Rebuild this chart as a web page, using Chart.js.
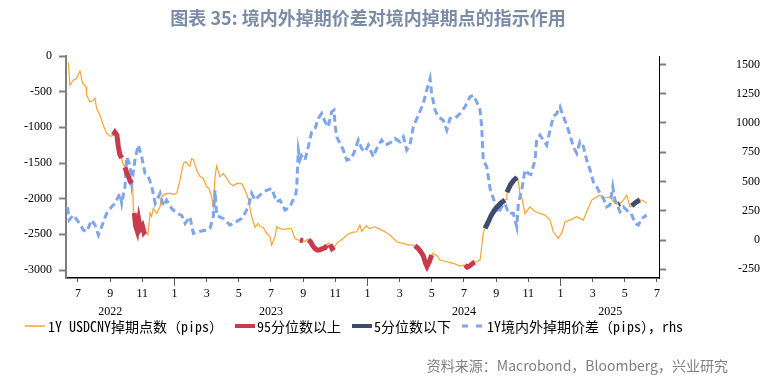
<!DOCTYPE html>
<html><head><meta charset="utf-8">
<script src="https://cdn.jsdelivr.net/npm/chart.js@4.4.1/dist/chart.umd.min.js"></script>
<style>html,body{margin:0;padding:0;background:#fff}canvas{display:block}</style>
</head><body>
<canvas id="c" width="760" height="383"></canvas>
<script>
// x values: months since 2022-01-01 (e.g. 6.0 = 1 Jul 2022)
const swapMonths = [5.40,5.50,5.71,5.92,6.12,6.29,6.50,6.54,6.75,6.95,7.06,7.16,7.37,7.57,7.78,7.99,8.10,8.19,8.30,8.42,8.51,8.60,8.72,8.78,8.85,8.92,9.05,9.15,9.25,9.34,9.40,9.44,9.50,9.58,9.68,9.78,9.88,10.00,10.10,10.17,10.26,10.35,10.48,10.58,10.68,10.89,11.10,11.20,11.30,11.50,11.72,11.95,12.14,12.34,12.55,12.70,12.85,12.96,13.07,13.17,13.38,13.59,13.79,14.00,14.15,14.31,14.41,14.52,14.62,14.83,15.03,15.25,15.45,15.66,15.87,16.18,16.38,16.59,16.80,17.01,17.21,17.32,17.52,17.73,17.94,18.04,18.25,18.35,18.56,18.77,19.18,19.29,19.49,19.70,19.80,19.99,20.11,20.25,20.32,20.45,20.60,20.74,20.86,21.00,21.20,21.36,21.48,21.56,21.62,21.67,21.80,21.95,22.09,22.29,22.50,22.71,22.91,23.12,23.33,23.53,23.64,23.85,23.95,24.10,24.47,24.78,25.09,25.40,25.71,25.82,26.23,26.64,26.85,26.95,27.16,27.30,27.47,27.60,27.70,27.85,27.99,28.07,28.32,28.51,28.93,29.34,29.75,29.95,30.06,30.20,30.37,30.58,30.68,30.79,31.00,31.10,31.20,31.28,31.31,31.50,31.70,31.93,32.05,32.30,32.55,32.62,32.67,32.90,33.10,33.30,33.36,33.48,33.60,33.79,34.10,34.42,34.73,35.04,35.35,35.55,35.86,36.08,36.28,36.59,37.01,37.42,37.63,37.94,38.25,38.46,38.77,39.08,39.39,39.60,39.70,39.91,40.12,40.32,40.43,40.63,40.84,40.94,41.05,41.20,41.36];
const swapPoints = [-83,-410,-340,-316,-210,-386,-432,-550,-644,-620,-596,-736,-830,-970,-1086,-1124,-1120,-1110,-1070,-1110,-1274,-1380,-1430,-1500,-1530,-1560,-1650,-1700,-1760,-1786,-1810,-2160,-2200,-2380,-2450,-2300,-2420,-2380,-2470,-2450,-2490,-2510,-2200,-2250,-2137,-2207,-2114,-1974,-1950,-1930,-1926,-1940,-1926,-1740,-1506,-1480,-1530,-1544,-1436,-1450,-1600,-1690,-1716,-1834,-1860,-1974,-2114,-1694,-1540,-1694,-1646,-1716,-1786,-1820,-1786,-1790,-1880,-2000,-2254,-2400,-2346,-2394,-2400,-2486,-2534,-2650,-2534,-2394,-2420,-2430,-2416,-2430,-2560,-2580,-2580,-2590,-2600,-2570,-2580,-2600,-2660,-2700,-2720,-2720,-2700,-2690,-2650,-2620,-2630,-2640,-2700,-2680,-2626,-2590,-2556,-2510,-2486,-2470,-2464,-2370,-2460,-2400,-2380,-2420,-2394,-2430,-2464,-2510,-2580,-2604,-2630,-2650,-2650,-2660,-2700,-2740,-2800,-2900,-2950,-2880,-2790,-2766,-2800,-2860,-2884,-2906,-2944,-2930,-2930,-2960,-2940,-2900,-2890,-2884,-2860,-2674,-2486,-2430,-2415,-2330,-2230,-2150,-2120,-2060,-2020,-2010,-1910,-1800,-1740,-1700,-1740,-1922,-1990,-2207,-2114,-2180,-2207,-2230,-2300,-2464,-2556,-2480,-2324,-2300,-2254,-2300,-2184,-2020,-1974,-1950,-1990,-1974,-2066,-2080,-2070,-2020,-1950,-2114,-2100,-2060,-2030,-2020,-2020,-2040,-2066];

const spreadMonths = [5.35,5.45,5.71,6.02,6.34,6.54,6.85,7.06,7.27,7.47,7.78,8.09,8.30,8.61,8.72,8.92,9.03,9.23,9.34,9.54,9.75,9.96,10.17,10.38,10.59,10.80,11.01,11.10,11.30,11.51,11.82,12.14,12.45,12.66,12.96,13.17,13.59,14.00,14.21,14.41,14.52,14.62,15.03,15.45,15.87,16.18,16.38,16.59,16.80,17.01,17.21,17.52,18.04,18.35,18.56,18.87,19.18,19.55,19.60,19.70,19.80,19.91,20.11,20.32,20.53,20.74,20.94,21.15,21.36,21.56,21.77,21.92,21.98,22.09,22.29,22.50,22.71,23.02,23.22,23.43,23.64,23.85,24.05,24.36,24.57,24.88,25.09,25.40,25.71,26.02,26.23,26.44,26.64,26.85,27.16,27.47,27.68,27.89,27.99,28.20,28.40,28.71,28.93,29.13,29.45,29.75,30.06,30.37,30.58,30.79,31.00,31.10,31.20,31.41,31.51,31.62,31.93,32.13,32.34,32.55,32.76,33.07,33.28,33.38,33.59,33.79,34.00,34.16,34.42,34.52,34.73,34.93,35.14,35.35,35.55,35.76,35.97,36.18,36.39,36.59,36.80,37.01,37.21,37.42,37.63,37.84,38.04,38.25,38.46,38.66,38.87,39.08,39.25,39.39,39.70,39.91,40.22,40.39,40.63,40.84,41.05,41.36];
const spreadPips = [280,171,213,156,85,71,171,128,43,114,228,284,313,399,313,455,711,640,484,683,811,711,569,541,455,313,370,399,290,341,270,228,210,142,199,57,75,85,100,199,427,210,185,128,160,185,228,284,399,341,370,412,441,327,341,256,284,399,455,768,683,720,683,797,925,953,1039,1081,1010,967,1095,1110,982,882,825,768,683,697,768,854,780,754,811,711,780,854,811,830,868,839,882,768,811,967,1067,1167,1281,1380,1252,1110,1053,1024,939,1039,1040,1081,1138,1223,1238,1181,1110,967,683,626,541,441,313,228,284,313,228,228,114,313,427,598,569,560,683,854,896,854,811,939,1053,1081,1138,1053,982,896,797,740,839,800,683,598,498,455,399,356,284,300,455,341,242,284,242,230,142,128,185,213];

// periods where the swap points are highlighted
const above95Ranges = [[8.19,8.42],[8.51,8.72],[8.92,9.34],[9.50,10.17],[19.80,19.99],[20.32,21.48],[21.67,21.95],[26.95,27.99],[30.06,30.68]];
const below5Ranges = [[31.31,32.55],[32.67,33.30],[39.60,39.70],[40.43,40.94]];

const monthTicks = [6,8,10,12,14,16,18,20,22,24,26,28,30,32,34,36,38,40,42];
const yearLabels = ['2022','2023','2024','2025'];
const yearCenters = [8.0,18.0,30.0,39.1];
const swapAxisTicks = [0,-500,-1000,-1500,-2000,-2500,-3000];
const spreadAxisTicks = [-250,0,250,500,750,1000,1250,1500];

const seriesNames = ['1Y USDCNY掉期点数（pips）','95分位数以上','5分位数以下','1Y境内外掉期价差（pips），rhs'];
const COLORS = {orange:'#F5A534', red:'#C93A4D', dark:'#3F4D6D', blue:'#7FA5EA'};

const inRanges = (m, rs) => rs.some(r => m >= r[0]-1e-9 && m <= r[1]+1e-9);
const swapData = swapMonths.map((m,i)=>({x:m,y:swapPoints[i]}));
const hiData = rs => swapMonths.map((m,i)=>({x:m,y: inRanges(m,rs) ? swapPoints[i] : null}));
const spreadData = spreadMonths.map((m,i)=>({x:m,y:spreadPips[i]}));

const tickFont = {family:"'Liberation Serif','Times New Roman',serif", size:12};
const X_MIN = 5.254, X_MAX = 42.125;

const decor = {
  id:'decor',
  afterDraw(chart){
    const ctx = chart.ctx;
    const xs = chart.scales.x;
    ctx.save();
    // longer ticks at year boundaries
    ctx.strokeStyle = '#595959'; ctx.lineWidth = 1;
    [12,24,36].forEach(v=>{
      const px = Math.round(xs.getPixelForValue(v))+0.5;
      ctx.beginPath(); ctx.moveTo(px, xs.top); ctx.lineTo(px, xs.top+8); ctx.stroke();
    });
    // title
    ctx.fillStyle = '#7B8CA6';
    ctx.font = "bold 18px 'Noto Sans CJK SC','Noto Sans',sans-serif";
    ctx.textAlign = 'center'; ctx.textBaseline = 'middle';
    ctx.fillText('图表 35: 境内外掉期价差对境内掉期点的指示作用', 368, 18);
    // legend
    const ds = chart.data.datasets;
    const lineX = [25,235,352,462];
    const textX = [48,257,374,487];
    const y = 326;
    ctx.font = "14px 'Noto Sans Mono CJK SC','Noto Sans CJK SC',monospace";
    ctx.textAlign = 'left'; ctx.textBaseline = 'middle';
    ds.forEach((d,i)=>{
      ctx.save();
      ctx.strokeStyle = d.borderColor;
      ctx.lineWidth = i===0 ? 1.5 : (i===3 ? 3 : 4);
      ctx.setLineDash(i===3 ? [6,8] : []);
      ctx.beginPath(); ctx.moveTo(lineX[i], y); ctx.lineTo(lineX[i] + (i===3?23:20), y); ctx.stroke();
      ctx.restore();
      ctx.fillStyle = '#000';
      ctx.fillText(d.label, textX[i], y+1);
    });
    // source
    ctx.fillStyle = '#808080';
    ctx.font = "14px 'Noto Sans CJK SC','Noto Sans',sans-serif";
    ctx.textAlign = 'right';
    ctx.fillText('资料来源：Macrobond，Bloomberg，兴业研究', 728, 366);
    ctx.restore();
  }
};

new Chart(document.getElementById('c'), {
  type:'line',
  data:{datasets:[
    {label:seriesNames[0], data:swapData, yAxisID:'yL', borderColor:COLORS.orange, borderWidth:1.2, pointRadius:0, order:4},
    {label:seriesNames[1], data:hiData(above95Ranges), yAxisID:'yL', borderColor:COLORS.red, borderWidth:5, pointRadius:0, order:2, spanGaps:false},
    {label:seriesNames[2], data:hiData(below5Ranges), yAxisID:'yL', borderColor:COLORS.dark, borderWidth:5, pointRadius:0, order:1, spanGaps:false},
    {label:seriesNames[3], data:spreadData, yAxisID:'yR', borderColor:COLORS.blue, borderWidth:3, borderDash:[7,4], pointRadius:0, order:3}
  ]},
  options:{
    responsive:false, animation:false, devicePixelRatio:1,
    layout:{padding:{top:56,left:0,right:0,bottom:61}},
    plugins:{legend:{display:false}, title:{display:false}, tooltip:{enabled:false}},
    scales:{
      x:{type:'linear', position:'bottom', min:X_MIN, max:X_MAX,
        afterFit:s=>{s.height=24;},
        afterBuildTicks:s=>{s.ticks = monthTicks.map(v=>({value:v}));},
        ticks:{callback:v=>String(Math.round(v)%12+1), font:tickFont, color:'#000', padding:5, maxRotation:0, autoSkip:false},
        grid:{display:true, drawOnChartArea:false, drawTicks:true, tickLength:4, tickColor:'#595959', tickWidth:1},
        border:{display:true, color:'#000', width:1.5}},
      x2:{type:'linear', position:'bottom', min:X_MIN, max:X_MAX,
        afterFit:s=>{s.height=20;},
        afterBuildTicks:s=>{s.ticks = yearCenters.map(v=>({value:v}));},
        ticks:{callback:(v,i)=>yearLabels[i], font:tickFont, color:'#000', padding:3, maxRotation:0, autoSkip:false},
        grid:{display:false, drawTicks:false}, border:{display:false}},
      yL:{position:'left', min:-3112, max:0,
        afterFit:s=>{s.width=66;},
        afterBuildTicks:s=>{s.ticks = swapAxisTicks.map(v=>({value:v}));},
        ticks:{font:tickFont, color:'#000', padding:7, callback:v=>String(v)},
        grid:{display:true, drawOnChartArea:false, tickLength:7, tickColor:'#7F7F7F', tickWidth:2},
        border:{display:true, color:'#7F7F7F', width:2}},
      yR:{position:'right', min:-324, max:1572,
        afterFit:s=>{s.width=101;},
        afterBuildTicks:s=>{s.ticks = spreadAxisTicks.map(v=>({value:v}));},
        ticks:{font:tickFont, color:'#000', padding:1, crossAlign:'far', callback:v=>String(v)},
        grid:{display:true, drawOnChartArea:false, tickLength:7, tickColor:'#7F7F7F', tickWidth:2},
        border:{display:true, color:'#000', width:1}}
    }
  },
  plugins:[decor]
});
</script></body></html>
